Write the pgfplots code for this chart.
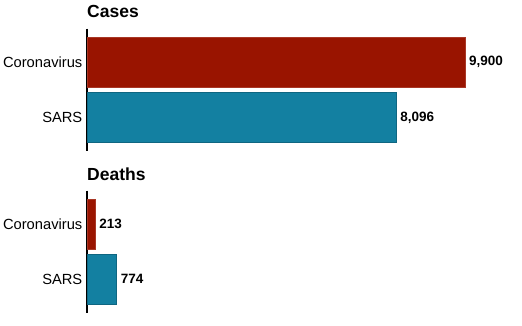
\documentclass[border=0pt]{standalone}
\usepackage{pgfplots}
\pgfplotsset{compat=1.18}
\usepackage{fontspec}
\setmainfont{Liberation Sans}
\definecolor{bbcred}{HTML}{991400}
\definecolor{bbcblue}{HTML}{1380A1}
\pgfplotsset{
  panel/.style={
    scale only axis, width=458.2pt, height=122.1pt,
    xmin=0, xmax=12000, ymin=-0.6, ymax=1.6, y dir=reverse,
    axis x line=none, axis y line*=left,
    y axis line style={line width=1.4pt, black},
    ytick={0,1}, yticklabels={Coronavirus,SARS},
    major tick length=0pt, tick style={draw=none},
    yticklabel style={font=\fontsize{14.7}{14.7}\selectfont, inner sep=0pt, xshift=-4.5pt},
    clip=false,
    /pgf/number format/.cd, fixed, precision=0, 1000 sep={,}, assume math mode=true,
  },
  mybar/.style={xbar, bar width=50pt, bar shift=0pt, point meta=x,
    nodes near coords,
    nodes near coords style={font=\bfseries\fontsize{13.5}{13.5}\selectfont, anchor=west, inner sep=4pt, black},
  },
}
\begin{document}
\begin{tikzpicture}
\useasboundingbox (0,0) rectangle (522pt,325pt);
\begin{axis}[panel, name=cases, at={(87pt,174.2pt)}, anchor=south west]
  \addplot[mybar, fill=bbcred, draw=bbcred!85!white] coordinates {(9900,0)};
  \addplot[mybar, fill=bbcblue, draw=bbcblue!80!black] coordinates {(8096,1)};
\end{axis}
\node[anchor=base west, inner sep=0pt, font=\bfseries\fontsize{17.5}{17.5}\selectfont] at ([yshift=11pt]cases.north west) {Cases};
\begin{axis}[panel, name=deaths, at={(87pt,12.4pt)}, anchor=south west]
  \addplot[mybar, fill=bbcred, draw=bbcred!85!white] coordinates {(213,0)};
  \addplot[mybar, fill=bbcblue, draw=bbcblue!80!black] coordinates {(774,1)};
\end{axis}
\node[anchor=base west, inner sep=0pt, font=\bfseries\fontsize{17.5}{17.5}\selectfont] at ([yshift=10pt]deaths.north west) {Deaths};
\end{tikzpicture}
\end{document}
